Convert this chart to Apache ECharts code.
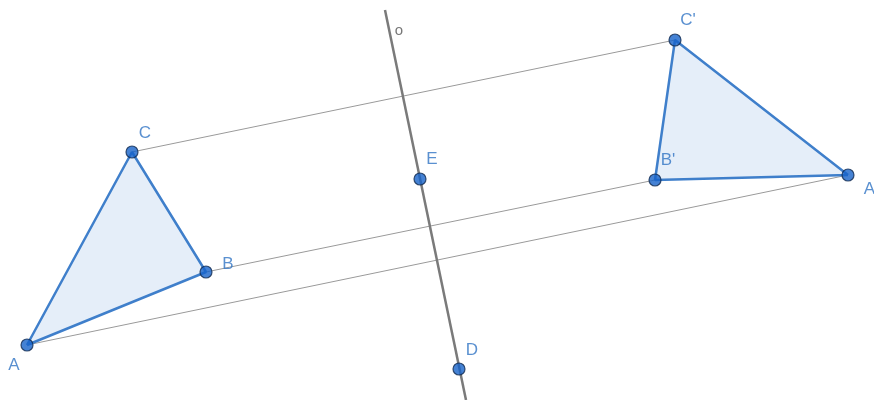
<!DOCTYPE html>
<html>
<head>
<meta charset="utf-8">
<script src="https://cdn.jsdelivr.net/npm/echarts@6/dist/echarts.min.js"></script>
<style>
  html, body { margin: 0; padding: 0; background: #fff; }
  #chart { width: 874px; height: 400px; }
</style>
</head>
<body>
<div id="chart"></div>
<script>
// Points (screen-like coords, y grows downward)
const pointNames = ['A', 'B', 'C', "A'", "B'", "C'", 'E', 'D'];
const pointX = [27, 206, 132, 848, 655, 675, 420, 459];
const pointY = [345, 272, 152, 175, 180, 40, 179, 369];

// Triangles, by point index
const triangles = [[0, 1, 2], [3, 4, 5]];

// Thin gray connectors between each point and its image
const connectors = [[2, 5], [1, 4], [0, 3]];

// Mirror line o (end points)
const lineOX = [385, 466];
const lineOY = [10, 400];

// Label offsets [dx, dy] for each point
const labelOffsets = [[-13, 20], [22, -8], [13, -19], [23, 14], [13, -20], [13, -20], [12, -20], [13, -19]];

const pt = i => [pointX[i], pointY[i]];

const chart = echarts.init(document.getElementById('chart'));

const series = [];

// Filled triangles
series.push({
    type: 'custom',
    coordinateSystem: 'cartesian2d',
    data: triangles.map((t, i) => [i]),
    z: 1,
    renderItem: function (params, api) {
        const t = triangles[params.dataIndex];
        const pts = t.map(i => api.coord(pt(i)));
        return {
            type: 'polygon',
            shape: { points: pts },
            style: { fill: 'rgba(204, 222, 244, 0.5)', stroke: 'none' }
        };
    }
});

// Gray connectors
connectors.forEach(c => {
    series.push({
        type: 'line',
        data: [pt(c[0]), pt(c[1])],
        symbol: 'none',
        silent: true,
        z: 2,
        lineStyle: { color: '#9a9a9a', width: 1 }
    });
});

// Line o
series.push({
    type: 'line',
    data: [[lineOX[0], lineOY[0]], [lineOX[1], lineOY[1]]],
    symbol: 'none',
    silent: true,
    z: 3,
    lineStyle: { color: '#7a7a7a', width: 2.5 }
});

// Triangle edges
triangles.forEach(t => {
    series.push({
        type: 'line',
        data: [pt(t[0]), pt(t[1]), pt(t[2]), pt(t[0])],
        symbol: 'none',
        silent: true,
        z: 4,
        lineStyle: { color: '#3f7fcb', width: 2.5 }
    });
});

// Points with labels
series.push({
    type: 'scatter',
    z: 10,
    symbolSize: 12,
    itemStyle: { color: '#1763c9', borderColor: '#102a50', borderWidth: 1.2 },
    data: pointNames.map((n, i) => ({
        value: pt(i),
        label: {
            show: true,
            formatter: n,
            position: 'inside',
            offset: labelOffsets[i],
            color: '#3174c4',
            fontSize: 17,
            fontFamily: 'Liberation Sans'
        }
    }))
});

// Label for line o
series.push({
    type: 'scatter',
    symbolSize: 0,
    z: 10,
    data: [{
        value: [399, 31],
        label: { show: true, formatter: 'o', position: 'inside', color: '#555', fontSize: 15, fontFamily: 'Liberation Sans' }
    }]
});

chart.setOption({
    animation: false,
    grid: { left: 0, right: 0, top: 0, bottom: 0 },
    xAxis: { type: 'value', min: 0, max: 874, show: false },
    yAxis: { type: 'value', min: 0, max: 400, inverse: true, show: false },
    series: series
});
</script>
</body>
</html>
